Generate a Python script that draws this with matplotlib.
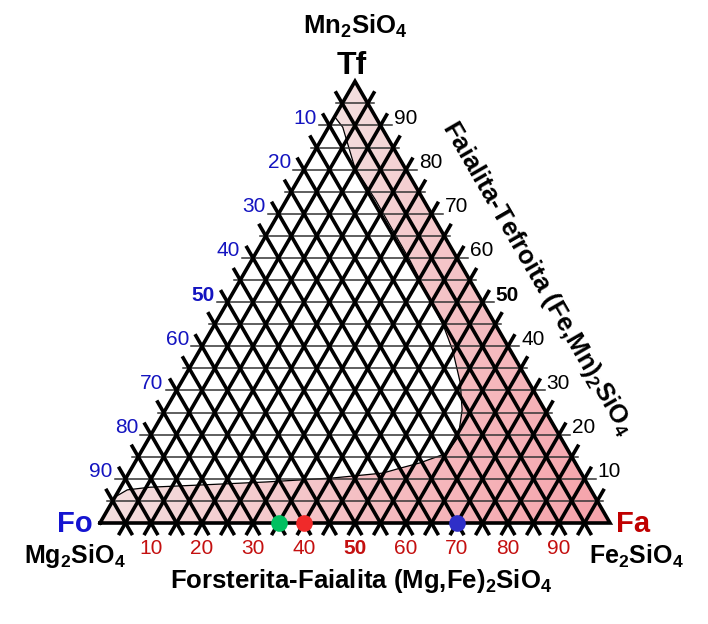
"""Ternary diagram of the Fo-Fa-Tf olivine system (Mg,Fe,Mn)2SiO4."""

import numpy as np
import matplotlib

matplotlib.use("Agg")
import matplotlib.pyplot as plt
from matplotlib.patches import Polygon

plt.rcParams["font.family"] = ["Liberation Sans", "DejaVu Sans"]
plt.rcParams["mathtext.fontset"] = "custom"
plt.rcParams["mathtext.rm"] = "Liberation Sans"
plt.rcParams["mathtext.bf"] = "Liberation Sans:bold"

# tick values along each side
LEFT_TICKS = [10, 20, 30, 40, 50, 60, 70, 80, 90]
RIGHT_TICKS = [10, 20, 30, 40, 50, 60, 70, 80, 90]
BOTTOM_TICKS = [10, 20, 30, 40, 50, 60, 70, 80, 90]

# boundary of the white (unshaded) field, read as (Fa %, Tf %)
BOUNDARY_FA = [0.0, 2.8, 9.7, 17.5, 31.0, 44.9, 49.6, 54.8, 58.2, 60.5,
               60.1, 55.9, 52.6, 49.8, 40.6, 28.1, 15.3, 5.7, 1.6, 0.0]
BOUNDARY_TF = [92.0, 89.6, 80.5, 73.1, 59.5, 44.8, 39.1, 31.7, 25.6, 19.5,
               15.8, 13.6, 12.4, 11.3, 10.2, 9.3, 8.6, 8.1, 7.5, 5.9]

# sample points on the Fo-Fa join (Fa %)
DOT_FA = [35, 40, 70]
DOT_COLORS = ["#00c060", "#f02a2a", "#2f2fc8"]

H = np.sqrt(3) / 2
PX = 1 / 510.0  # one pixel in data units


def tern(fa, tf):
    fa = np.asarray(fa, dtype=float)
    tf = np.asarray(tf, dtype=float)
    return (fa + 0.5 * tf) / 100.0, tf / 100.0 * H


def ext_line(ax, p1, p2, e1, e2, **kw):
    p1 = np.array(p1)
    p2 = np.array(p2)
    d = (p2 - p1) / np.linalg.norm(p2 - p1)
    a = p1 - d * e1 * PX
    b = p2 + d * e2 * PX
    ax.plot([a[0], b[0]], [a[1], b[1]], **kw)


def main():
    fig = plt.figure(figsize=(7.08, 6.24), dpi=100)
    ax = fig.add_axes([0, 0, 1, 1])
    ax.set_xlim(-100 * PX, 608 * PX)
    ax.set_ylim(-101 * PX, 523 * PX)
    ax.axis("off")

    # pink field with gradient towards Fa
    bx, by = tern(BOUNDARY_FA, BOUNDARY_TF)
    vx, vy = tern([0, 100, 0], [0, 0, 100])
    poly_xy = list(zip(bx, by)) + list(zip(vx, vy))
    patch = Polygon(poly_xy, closed=True, facecolor="none", edgecolor="none")
    ax.add_patch(patch)

    gx, gy = np.meshgrid(np.linspace(0, 1, 400), np.linspace(0, H, 400))
    fa = np.clip(gx - gy / np.sqrt(3), 0, 1)
    light = np.array([0.955, 0.875, 0.875])
    dark = np.array([0.965, 0.635, 0.665])
    t = fa[..., None] ** 0.9
    img = light + (dark - light) * t
    im = ax.imshow(img, extent=[0, 1, 0, H], origin="lower",
                   interpolation="bilinear", zorder=1)
    im.set_clip_path(patch)

    ax.plot(bx, by, color="black", lw=0.9, zorder=2)

    steps = np.arange(5, 100, 5)
    # thin horizontal lines (constant Tf)
    for s in steps:
        p1 = [float(v) for v in tern(0, s)]
        p2 = [float(v) for v in tern(100 - s, s)]
        e = 11 if s % 10 == 0 else 6
        ext_line(ax, p1, p2, e, e, color="#333333", lw=1.1, zorder=3)

    thick = dict(color="black", lw=2.6, solid_capstyle="butt", zorder=4)
    for s in steps:
        # lines parallel to the right edge (constant Fo)
        p1 = [float(v) for v in tern(0, 100 - s)]
        p2 = [float(v) for v in tern(100 - s, 0)]
        ext_line(ax, p1, p2, 14, 14, **thick)
        # lines parallel to the left edge (constant Fa)
        p1 = [float(v) for v in tern(s, 0)]
        p2 = [float(v) for v in tern(s, 100 - s)]
        ext_line(ax, p1, p2, 14, 14, **thick)

    ax.plot(list(vx) + [vx[0]], list(vy) + [vy[0]], color="black", lw=2.6,
            solid_joinstyle="miter", zorder=4)

    # tick labels
    for v in LEFT_TICKS:
        x, y = tern(0, 100 - v)
        ax.text(x - 13 * PX, y + 7 * PX, str(v), ha="right", va="center",
                fontsize=15, color="#1414c0",
                fontweight="bold" if v == 50 else "normal")
    for v in RIGHT_TICKS:
        x, y = tern(100 - v, v)
        ax.text(x + 13 * PX, y + 7 * PX, str(v), ha="left", va="center",
                fontsize=15, color="black",
                fontweight="bold" if v == 50 else "normal")
    for v in BOTTOM_TICKS:
        x, y = tern(v, 0)
        ax.text(x, y - 26 * PX, str(v), ha="center", va="center",
                fontsize=15, color="#c41010",
                fontweight="bold" if v == 50 else "normal")

    # sample dots
    dx, dy = tern(DOT_FA, [0] * len(DOT_FA))
    for x, y, c in zip(dx, dy, DOT_COLORS):
        ax.plot(x, y, "o", ms=12, color=c, mec="none", zorder=6)

    # end-member labels
    tx, ty = tern(0, 100)
    ax.text(tx - 3 * PX, ty + 15 * PX, "Tf", ha="center", va="center",
            fontsize=23, fontweight="bold")
    ax.text(tx, ty + 55 * PX, r"Mn$_\mathbf{2}$SiO$_\mathbf{4}$",
            ha="center", va="center", fontsize=18.5, fontweight="bold")
    ax.text(-25 * PX, -1 * PX, "Fo", ha="center", va="center",
            fontsize=21, fontweight="bold", color="#1414d0")
    ax.text(-25 * PX, -33 * PX, r"Mg$_\mathbf{2}$SiO$_\mathbf{4}$",
            ha="center", va="center", fontsize=18, fontweight="bold")
    ax.text(533 * PX, -1 * PX, "Fa", ha="center", va="center",
            fontsize=21, fontweight="bold", color="#c00000")
    ax.text(536 * PX, -33 * PX, r"Fe$_\mathbf{2}$SiO$_\mathbf{4}$",
            ha="center", va="center", fontsize=18, fontweight="bold")

    # side titles
    ax.text(261 * PX, -58 * PX,
            r"Forsterita-Faialita (Mg,Fe)$_\mathbf{2}$SiO$_\mathbf{4}$",
            ha="center", va="center", fontsize=18.5, fontweight="bold")
    ax.text(438 * PX, 245 * PX,
            r"Faialita-Tefroita (Fe,Mn)$_\mathbf{2}$SiO$_\mathbf{4}$",
            ha="center", va="center", fontsize=18.5, fontweight="bold",
            rotation=-60, rotation_mode="anchor")

    fig.savefig("out.png", dpi=100)
    plt.close(fig)


if __name__ == "__main__":
    main()
